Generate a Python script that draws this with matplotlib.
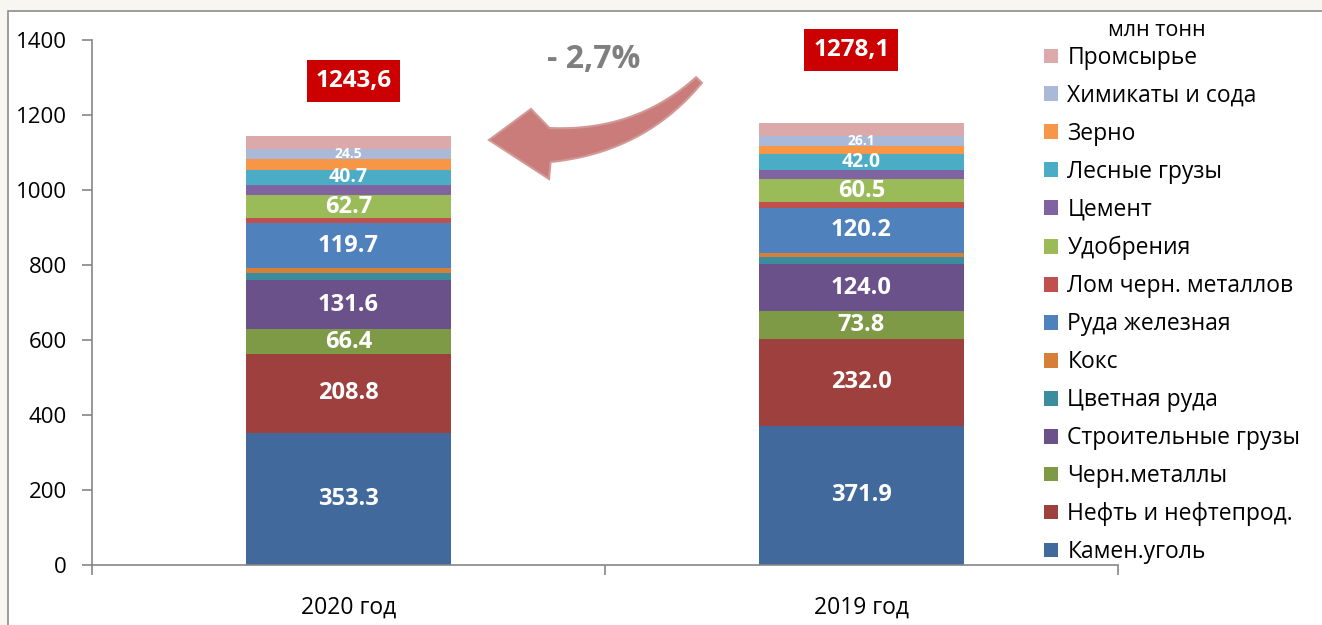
import matplotlib
matplotlib.use('Agg')
import matplotlib.pyplot as plt
import numpy as np
from matplotlib.patches import Patch, Rectangle, Polygon

plt.rcParams['font.family'] = ['Open Sans', 'DejaVu Sans']

# данные, млн тонн (снизу вверх)
categories = ['Камен.уголь', 'Нефть и нефтепрод.', 'Черн.металлы', 'Строительные грузы',
              'Цветная руда', 'Кокс', 'Руда железная', 'Лом черн. металлов', 'Удобрения',
              'Цемент', 'Лесные грузы', 'Зерно', 'Химикаты и сода', 'Промсырье']
years = ['2020 год', '2019 год']
v2020 = [353.3, 208.8, 66.4, 131.6, 19, 13, 119.7, 12.5, 62.7, 26, 40.7, 30, 24.5, 35]
v2019 = [371.9, 232.0, 73.8, 124.0, 20, 11, 120.2, 15, 60.5, 25, 42.0, 22, 26.1, 36]
show_label = [True, True, True, True, False, False, True, False, True, False, True, False, True, False]
totals = ['1243,6', '1278,1']
change = '- 2,7%'

colors = ['#41699c', '#9e403d', '#7e9a47', '#6a5189', '#3c8ca0', '#d57f39', '#4f81bd',
          '#c0504d', '#9bbb59', '#8064a2', '#4bacc6', '#f79646', '#a9b9d7', '#dba9a9']
label_size = [17, 17, 17, 17, 0, 0, 17, 0, 17, 0, 14, 0, 10, 0]

W, H = 1322, 625
fig = plt.figure(figsize=(W / 100, H / 100), dpi=100, facecolor='#f7f6f1')

# white panel with grey frame
fig.patches.append(Rectangle((8 / W, -0.1), 1.1, 1.1 - 11 / H, transform=fig.transFigure,
                             facecolor='white', edgecolor='#8c8c8c', lw=1.2, zorder=-5))

ax = fig.add_axes([92 / W, 60 / H, 1026 / W, 525 / H])
ax.set_facecolor('none')

x = np.arange(len(years))
data = np.array([v2020, v2019])
bottoms = np.zeros(len(years))
for i, cat in enumerate(categories):
    vals = data[:, i]
    ax.bar(x, vals, width=0.4, bottom=bottoms, color=colors[i], label=cat, linewidth=0)
    if show_label[i]:
        for j in range(len(years)):
            ax.text(x[j], bottoms[j] + vals[j] / 2, f'{vals[j]:.1f}', ha='center', va='center',
                    color='white', fontsize=label_size[i], fontweight='bold')
    bottoms = bottoms + vals

ax.set_xlim(-0.5, 1.5)
ax.set_ylim(0, 1400)
ax.set_yticks(range(0, 1401, 200))
ax.set_xticks(x)
ax.set_xticklabels(years)
ax.set_xticks([-0.5, 0.5, 1.5], minor=True)
ax.tick_params(axis='x', which='major', length=0, pad=22, labelsize=16.5)
ax.tick_params(axis='x', which='minor', length=7, width=1.2, color='#868686', direction='out')
ax.tick_params(axis='y', length=7, width=1.2, color='#868686', pad=11, labelsize=16)
for s in ['top', 'right']:
    ax.spines[s].set_visible(False)
for s in ['left', 'bottom']:
    ax.spines[s].set_color('#868686')
    ax.spines[s].set_linewidth(1.2)

# итоговые значения в красных плашках
tot_pos = [(0.01, 1291), (0.98, 1373)]
for t, (tx, ty) in zip(totals, tot_pos):
    ax.text(tx, ty, t, ha='center', va='center', color='white', fontsize=17.5, fontweight='bold',
            bbox=dict(boxstyle='square,pad=0.36', facecolor='#cc0000', edgecolor='none'))

fig.text(594 / W, 1 - 59 / H, change, ha='center', va='center', color='#7f7f7f',
         fontsize=23, fontweight='bold')

# curved arrow (figure pixels)
t = np.linspace(0, 1, 60)[:, None]
P0, P1, P2 = np.array([699, 80]), np.array([640, 142]), np.array([550, 145])
curve = (1 - t) ** 2 * P0 + 2 * (1 - t) * t * P1 + t ** 2 * P2
tang = 2 * (1 - t) * (P1 - P0) + 2 * t * (P2 - P1)
norm = np.column_stack([-tang[:, 1], tang[:, 0]]) / np.linalg.norm(tang, axis=1)[:, None]
half = 4 + 13 * t
upper = curve + norm * half
lower = curve - norm * half
if upper[-1, 1] > lower[-1, 1]:
    upper, lower = lower, upper
head = np.array([[531, 109], [489, 140], [549, 179]])
pts = np.vstack([upper, head, lower[::-1]])
pts_fig = np.column_stack([pts[:, 0] / W, 1 - pts[:, 1] / H])
fig.patches.append(Polygon(pts_fig, closed=True, transform=fig.transFigure,
                           facecolor='#c97c7a', edgecolor='#d29896', lw=1.5))

handles = [Patch(facecolor=colors[i], edgecolor='none', label=categories[i])
           for i in range(len(categories))][::-1]
leg = fig.legend(handles=handles, loc='upper left', bbox_to_anchor=(1044 / W, 1 - 46 / H),
                 frameon=False, fontsize=16.5, labelspacing=0.61, handlelength=0.62,
                 handleheight=0.62, handletextpad=0.4, borderpad=0, borderaxespad=0)
fig.text(1157 / W, 1 - 31 / H, 'млн тонн', ha='center', va='center', fontsize=15.5)

fig.savefig('out.png', dpi=100, facecolor=fig.get_facecolor())
